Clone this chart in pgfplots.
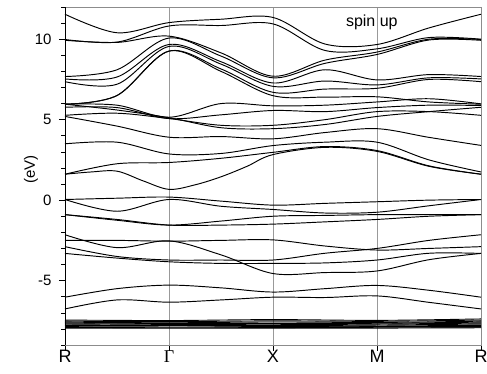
\documentclass[border=0pt]{standalone}
\usepackage{fontspec}
\setmainfont{Liberation Sans}
\newfontfamily\serifG{Liberation Serif}
\usepackage{pgfplots}
\pgfplotsset{compat=1.18}
\begin{document}
\begin{tikzpicture}
\begin{axis}[
  scale only axis, width=416pt, height=338pt,
  xmin=0, xmax=4, ymin=-9, ymax=12,
  xtick={0,1,2,3,4}, xticklabels={R,{\serifG Γ},X,M,R},
  ytick={-5,0,5,10}, minor ytick={-9,-8,...,12},
  tick pos=left, tick align=outside,
  major tick length=6pt, minor tick length=3.5pt,
  every tick/.style={black, line width=0.6pt},
  xmajorgrids, grid style={gray!80, line width=0.5pt},
  axis line style={gray!90, line width=0.6pt},
  /pgf/number format/assume math mode=true,
  yticklabel style={font=\fontsize{15}{16}\selectfont, xshift=-4pt},
  xticklabel style={font=\fontsize{18}{19}\selectfont, yshift=4pt},
  ylabel={(eV)}, ylabel style={font=\fontsize{15}{16}\selectfont, at={(axis description cs:-0.082,0.52)}, anchor=center},
  clip=true,
  band/.style={black, line width=0.95pt, smooth, tension=0.55, no marks},
  core/.style={black, line width=0.9pt, smooth, no marks},
]
% upper conduction bands
\addplot[band] coordinates {(0,11.55)(0.5,10.4)(1,11.03)(1.5,11.24)(2,11.35)(2.5,9.7)(3,9.67)(3.5,10.7)(4,11.55)};
\addplot[band] coordinates {(0,9.98)(0.5,9.82)(1,10.82)(1.5,10.85)(2,10.95)(2.5,9.3)(3,9.4)(3.5,10.1)(4,10.0)};
\addplot[band] coordinates {(0,9.93)(0.5,9.8)(1,10.19)(1.5,9.15)(2,7.7)(2.5,8.7)(3,9.2)(3.5,10.0)(4,9.98)};
\addplot[band] coordinates {(0,7.68)(0.5,8.1)(1,10.07)(1.5,8.95)(2,7.6)(2.5,8.5)(3,9.05)(3.5,9.95)(4,9.93)};
\addplot[band] coordinates {(0,7.53)(0.5,7.65)(1,9.67)(1.5,8.6)(2,7.28)(2.5,8.1)(3,7.47)(3.5,7.8)(4,7.68)};
\addplot[band] coordinates {(0,7.36)(0.5,7.2)(1,9.55)(1.5,8.45)(2,7.07)(2.5,7.4)(3,7.16)(3.5,7.6)(4,7.53)};
\addplot[band] coordinates {(0,5.96)(0.5,6.5)(1,9.26)(1.5,8.15)(2,6.7)(2.5,6.9)(3,6.95)(3.5,7.5)(4,7.36)};
\addplot[band] coordinates {(0,5.96)(0.5,6.5)(1,9.26)(1.5,8.0)(2,6.49)(2.5,6.4)(3,6.42)(3.5,6.1)(4,5.96)};
% middle conduction bands
\addplot[band] coordinates {(0,5.96)(0.5,5.9)(1,5.15)(1.5,6.0)(2,5.86)(2.5,5.9)(3,6.1)(3.5,6.3)(4,5.98)};
\addplot[band] coordinates {(0,5.77)(0.5,5.75)(1,5.07)(1.5,5.3)(2,5.57)(2.5,5.5)(3,5.75)(3.5,5.9)(4,5.88)};
\addplot[band] coordinates {(0,5.96)(0.5,5.6)(1,5.12)(1.5,4.5)(2,4.44)(2.5,4.7)(3,5.2)(3.5,5.5)(4,5.77)};
\addplot[band] coordinates {(0,5.27)(0.5,5.4)(1,5.07)(1.5,4.65)(2,4.65)(2.5,5.0)(3,5.5)(3.5,5.5)(4,5.27)};
\addplot[band] coordinates {(0,5.2)(0.5,4.6)(1,3.91)(1.5,3.95)(2,3.81)(2.5,4.2)(3,4.44)(3.5,3.9)(4,3.4)};
\addplot[band] coordinates {(0,3.5)(0.5,3.6)(1,2.87)(1.5,2.9)(2,3.39)(2.5,3.6)(3,3.6)(3.5,2.5)(4,1.75)};
\addplot[band] coordinates {(0,1.61)(0.5,2.26)(1,2.34)(1.5,2.6)(2,2.97)(2.5,3.33)(3,3.08)(3.5,2.13)(4,1.61)};
\addplot[band] coordinates {(0,1.61)(0.25,1.75)(0.5,1.8)(0.75,1.2)(1,0.67)(1.25,0.95)(1.5,1.45)(1.75,2.1)(2,2.83)(2.5,3.28)(3,3.03)(3.5,2.1)(4,1.61)};
% valence bands
\addplot[band] coordinates {(0,0.04)(0.5,0.12)(1,0.19)(1.5,-0.06)(2,-0.31)(2.5,-0.2)(3,-0.1)(3.5,0.0)(4,0.04)};
\addplot[band] coordinates {(0,0.04)(0.5,-0.69)(1,0.04)(1.5,-0.38)(2,-0.58)(2.5,-0.8)(3,-0.75)(3.5,-0.35)(4,0.04)};
\addplot[band] coordinates {(0,-0.9)(0.5,-1.25)(1,-1.55)(1.5,-1.3)(2,-1.0)(2.5,-0.95)(3,-0.9)(3.5,-0.9)(4,-0.9)};
\addplot[band] coordinates {(0,-0.9)(0.5,-1.2)(1,-1.55)(1.5,-1.55)(2,-1.49)(2.5,-1.35)(3,-1.2)(3.5,-1.0)(4,-0.9)};
\addplot[band] coordinates {(0,-2.15)(0.5,-2.95)(1,-2.53)(1.5,-3.4)(2,-4.56)(2.5,-4.5)(3,-4.4)(3.5,-3.7)(4,-3.31)};
\addplot[band] coordinates {(0,-2.5)(0.5,-2.5)(1,-2.55)(1.5,-2.5)(2,-2.47)(2.5,-2.85)(3,-3.1)(3.5,-3.0)(4,-2.89)};
\addplot[band] coordinates {(0,-2.89)(0.5,-3.5)(1,-3.72)(1.5,-3.72)(2,-3.72)(2.5,-3.3)(3,-3.0)(3.5,-2.5)(4,-2.15)};
\addplot[band] coordinates {(0,-3.31)(0.5,-3.6)(1,-3.83)(1.5,-3.93)(2,-3.93)(2.5,-3.9)(3,-3.72)(3.5,-3.3)(4,-3.31)};
\addplot[band] coordinates {(0,-6.03)(0.5,-5.5)(1,-5.28)(1.5,-5.45)(2,-5.71)(2.5,-5.5)(3,-5.3)(3.5,-5.6)(4,-6.03)};
\addplot[band] coordinates {(0,-6.76)(0.5,-6.2)(1,-6.34)(1.5,-6.2)(2,-6.03)(2.5,-6.05)(3,-5.95)(3.5,-6.35)(4,-6.76)};
% core bundle
\addplot[core] coordinates {(0,-7.45)(1,-7.48)(2,-7.42)(3,-7.47)(4,-7.38)};
\addplot[core] coordinates {(0,-7.52)(1,-7.55)(2,-7.5)(3,-7.53)(4,-7.45)};
\addplot[core] coordinates {(0,-7.58)(1,-7.62)(2,-7.57)(3,-7.6)(4,-7.52)};
\addplot[core] coordinates {(0,-7.63)(1,-7.66)(2,-7.66)(3,-7.65)(4,-7.58)};
\addplot[core] coordinates {(0,-7.68)(1,-7.72)(2,-7.74)(3,-7.7)(4,-7.64)};
\addplot[core] coordinates {(0,-7.74)(1,-7.78)(2,-7.8)(3,-7.76)(4,-7.7)};
\addplot[core] coordinates {(0,-7.8)(1,-7.8)(2,-7.85)(3,-7.82)(4,-7.78)};
\addplot[core] coordinates {(0,-7.86)(1,-7.88)(2,-7.88)(3,-7.86)(4,-7.85)};
\addplot[core] coordinates {(0,-7.9)(1,-7.93)(2,-7.92)(3,-7.9)(4,-7.9)};
\addplot[core] coordinates {(0,-7.95)(1,-7.96)(2,-7.95)(3,-7.95)(4,-7.93)};
\node[font=\fontsize{16}{17}\selectfont] at (axis cs:2.95,11.05) {spin up};
\draw[black, line width=0.7pt] (rel axis cs:0,0) -- (rel axis cs:1,0);
\draw[black, line width=0.7pt] (rel axis cs:0,0) -- (rel axis cs:0,1);
\coordinate (ll) at (rel axis cs:0,0);
\coordinate (ur) at (rel axis cs:1,1);
\end{axis}
\pgfresetboundingbox
\path ([shift={(-65pt,-29pt)}]ll) rectangle ([shift={(6pt,7pt)}]ur);
\end{tikzpicture}
\end{document}
